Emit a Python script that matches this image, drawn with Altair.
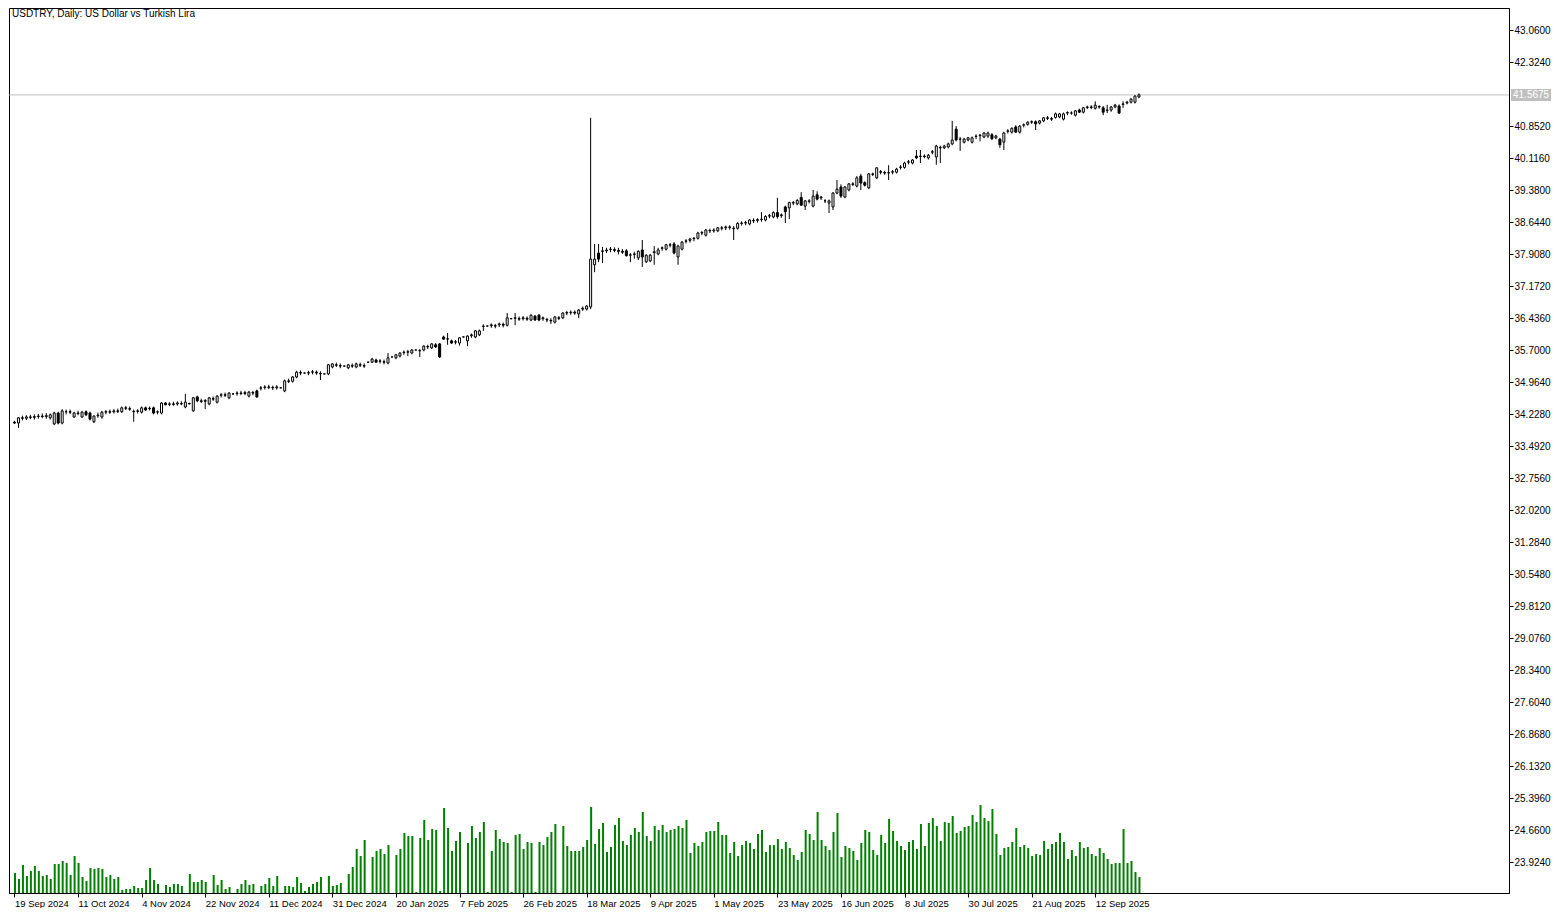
import json
import altair as alt
import pandas as pd

title_text = "USDTRY, Daily:  US Dollar vs Turkish Lira"
date_labels = ["19 Sep 2024", "11 Oct 2024", "4 Nov 2024", "22 Nov 2024", "11 Dec 2024",
               "31 Dec 2024", "20 Jan 2025", "7 Feb 2025", "26 Feb 2025", "18 Mar 2025",
               "9 Apr 2025", "1 May 2025", "23 May 2025", "16 Jun 2025", "8 Jul 2025",
               "30 Jul 2025", "21 Aug 2025", "12 Sep 2025"]
price_ticks = [23.924, 24.66, 25.396, 26.132, 26.868, 27.604, 28.34, 29.076, 29.812,
               30.548, 31.284, 32.02, 32.756, 33.492, 34.228, 34.964, 35.7, 36.436,
               37.172, 37.908, 38.644, 39.38, 40.116, 40.852, 42.324, 43.06]
last_price = 41.5675

opens = [
 34.04,34.02,34.14,34.13,34.16,34.15,34.17,34.18,34.17,34.14,34.00,34.25,34.02,34.28,34.28,34.16,34.25,34.16,34.28,34.25,
 34.05,34.19,34.16,34.27,34.28,34.28,34.30,34.28,34.37,34.35,34.29,34.29,34.27,34.37,34.35,34.37,34.27,34.25,34.48,34.45,
 34.46,34.46,34.47,34.39,34.47,34.30,34.62,34.53,34.52,34.46,34.58,34.50,34.66,34.67,34.60,34.69,34.70,34.71,34.70,34.64,
 34.72,34.76,34.82,34.84,34.85,34.84,34.83,34.83,34.76,34.99,34.98,35.08,35.18,35.17,35.17,35.19,35.19,35.16,35.15,35.15,
 35.31,35.36,35.34,35.33,35.29,35.34,35.31,35.36,35.34,35.42,35.42,35.47,35.44,35.43,35.40,35.54,35.52,35.56,35.64,35.65,
 35.63,35.70,35.68,35.70,35.77,35.75,35.82,35.84,36.00,35.95,35.91,35.88,35.86,36.00,35.91,36.03,36.00,36.05,36.24,36.25,
 36.26,36.26,36.28,36.29,36.27,36.42,36.43,36.42,36.42,36.43,36.39,36.48,36.50,36.42,36.40,36.38,36.34,36.44,36.44,36.55,
 36.56,36.57,36.53,36.64,36.64,36.69,37.66,37.93,37.98,37.98,38.01,38.01,37.99,37.97,37.98,37.88,37.90,37.82,38.00,37.73,
 37.75,37.94,37.91,38.04,38.02,38.11,38.14,37.84,38.02,38.20,38.22,38.26,38.27,38.39,38.34,38.45,38.44,38.44,38.50,38.51,
 38.53,38.50,38.50,38.61,38.62,38.60,38.68,38.68,38.70,38.69,38.78,38.76,38.86,38.79,38.99,38.97,39.08,39.06,39.21,39.01,
 39.12,39.01,39.27,39.20,39.13,39.08,38.99,39.31,39.45,39.22,39.38,39.52,39.47,39.70,39.55,39.43,39.74,39.66,39.80,39.78,
 39.77,39.79,39.79,39.90,39.90,40.02,40.00,40.16,40.15,40.15,40.12,40.25,40.14,40.36,40.35,40.37,40.44,40.78,40.55,40.48,
 40.53,40.48,40.61,40.63,40.60,40.62,40.65,40.58,40.55,40.48,40.73,40.71,40.83,40.71,40.87,40.89,40.94,40.95,40.92,40.97,
 41.04,41.02,41.05,41.06,41.01,41.15,41.15,41.10,41.22,41.17,41.28,41.29,41.26,41.30,41.27,41.21,41.22,41.29,41.31,41.35,
 41.38,41.40,41.40,41.52]
highs = [
 34.07,34.16,34.19,34.20,34.21,34.22,34.23,34.24,34.25,34.24,34.28,34.28,34.34,34.33,34.33,34.28,34.30,34.30,34.31,34.28,
 34.20,34.26,34.30,34.32,34.33,34.34,34.35,34.40,34.41,34.40,34.33,34.34,34.40,34.40,34.40,34.40,34.31,34.50,34.50,34.50,
 34.51,34.52,34.52,34.69,34.49,34.62,34.65,34.58,34.57,34.62,34.63,34.66,34.71,34.72,34.73,34.70,34.75,34.76,34.76,34.76,
 34.76,34.79,34.87,34.89,34.90,34.88,34.89,34.84,35.02,35.04,35.10,35.22,35.23,35.18,35.22,35.24,35.23,35.21,35.16,35.38,
 35.40,35.41,35.39,35.34,35.38,35.39,35.41,35.41,35.39,35.43,35.52,35.50,35.49,35.48,35.63,35.55,35.61,35.65,35.69,35.70,
 35.72,35.71,35.72,35.81,35.82,35.86,35.86,35.86,36.03,36.09,35.94,35.93,35.99,36.01,36.04,36.08,36.16,36.17,36.29,36.26,
 36.31,36.30,36.33,36.33,36.55,36.43,36.55,36.47,36.48,36.47,36.52,36.50,36.53,36.47,36.44,36.43,36.48,36.48,36.57,36.60,
 36.61,36.61,36.64,36.70,36.73,41.04,38.14,38.14,38.07,38.05,38.07,38.06,38.05,38.02,38.02,37.93,37.96,37.99,38.23,37.90,
 37.91,38.09,38.05,38.08,38.14,38.16,38.18,38.12,38.21,38.25,38.28,38.30,38.42,38.44,38.48,38.49,38.50,38.53,38.55,38.56,
 38.57,38.55,38.64,38.66,38.67,38.71,38.73,38.73,38.87,38.80,38.83,38.89,39.20,38.84,39.02,39.11,39.13,39.17,39.33,39.15,
 39.17,39.38,39.35,39.24,39.17,39.16,39.33,39.61,39.51,39.47,39.54,39.56,39.70,39.75,39.58,39.77,39.78,39.90,39.84,39.82,
 39.95,39.84,39.89,39.95,40.03,40.07,40.09,40.30,40.30,40.20,40.21,40.30,40.42,40.40,40.42,40.47,40.97,40.85,40.60,40.58,
 40.60,40.61,40.66,40.67,40.71,40.72,40.69,40.65,40.58,40.72,40.78,40.82,40.87,40.87,40.91,40.96,40.98,40.98,40.99,41.06,
 41.08,41.06,41.16,41.15,41.16,41.19,41.19,41.22,41.25,41.29,41.32,41.33,41.42,41.33,41.31,41.34,41.31,41.36,41.35,41.42,
 41.43,41.49,41.56,41.60]
lows = [
 34.00,33.91,34.08,34.09,34.11,34.10,34.12,34.13,34.12,34.10,33.97,33.99,33.99,34.22,34.23,34.14,34.20,34.14,34.18,34.08,
 34.02,34.14,34.12,34.22,34.23,34.24,34.25,34.25,34.32,34.30,34.05,34.24,34.24,34.30,34.31,34.22,34.22,34.22,34.43,34.41,
 34.42,34.42,34.43,34.36,34.45,34.28,34.50,34.48,34.34,34.43,34.53,34.47,34.61,34.62,34.57,34.68,34.65,34.66,34.66,34.61,
 34.66,34.60,34.77,34.79,34.80,34.78,34.79,34.82,34.73,34.94,34.95,35.05,35.12,35.16,35.12,35.14,35.13,35.01,35.14,35.12,
 35.28,35.31,35.28,35.32,35.26,35.29,35.28,35.31,35.29,35.41,35.40,35.41,35.39,35.37,35.37,35.53,35.49,35.53,35.59,35.56,
 35.60,35.69,35.54,35.67,35.72,35.72,35.75,35.52,35.94,35.82,35.84,35.83,35.80,35.99,35.79,35.98,35.97,36.02,36.14,36.24,
 36.21,36.20,36.23,36.22,36.24,36.41,36.27,36.37,36.38,36.37,36.36,36.37,36.36,36.37,36.34,36.30,36.31,36.39,36.41,36.50,
 36.51,36.51,36.43,36.60,36.61,36.64,37.49,37.72,37.70,37.93,37.95,37.95,37.90,37.91,37.85,37.72,37.80,37.77,37.61,37.70,
 37.72,37.66,37.88,37.98,37.99,38.06,37.90,37.66,37.99,38.15,38.17,38.20,38.24,38.34,38.31,38.39,38.40,38.41,38.45,38.46,
 38.47,38.23,38.47,38.56,38.57,38.57,38.62,38.63,38.65,38.66,38.73,38.73,38.72,38.74,38.62,38.71,39.03,39.03,39.02,38.92,
 39.07,38.98,39.14,39.15,39.08,38.85,38.92,39.28,39.20,39.19,39.35,39.47,39.44,39.38,39.46,39.40,39.70,39.63,39.74,39.73,
 39.61,39.74,39.76,39.85,39.87,39.97,39.97,40.09,40.00,40.11,40.08,40.20,39.96,40.00,40.32,40.34,40.41,40.50,40.28,40.45,
 40.50,40.45,40.55,40.50,40.57,40.58,40.53,40.55,40.35,40.30,40.68,40.68,40.70,40.68,40.82,40.86,40.90,40.76,40.89,40.94,
 40.99,40.97,41.02,41.03,40.98,41.10,41.11,41.07,41.15,41.14,41.24,41.24,41.23,41.25,41.10,41.15,41.18,41.26,41.13,41.27,
 41.35,41.37,41.37,41.49]
closes = [
 34.02,34.14,34.13,34.16,34.15,34.17,34.18,34.17,34.19,34.21,34.25,34.02,34.30,34.28,34.27,34.25,34.24,34.27,34.21,34.11,
 34.18,34.20,34.27,34.28,34.27,34.30,34.29,34.37,34.36,34.34,34.28,34.30,34.37,34.32,34.36,34.25,34.28,34.48,34.44,34.46,
 34.45,34.48,34.46,34.50,34.46,34.60,34.53,34.52,34.54,34.60,34.57,34.64,34.67,34.66,34.71,34.69,34.71,34.70,34.72,34.73,
 34.71,34.62,34.83,34.85,34.84,34.83,34.85,34.83,34.99,34.98,35.08,35.19,35.17,35.17,35.18,35.20,35.17,35.15,35.15,35.36,
 35.38,35.35,35.33,35.33,35.36,35.33,35.38,35.35,35.33,35.42,35.49,35.42,35.45,35.42,35.52,35.54,35.59,35.63,35.65,35.66,
 35.70,35.70,35.69,35.79,35.78,35.84,35.77,35.54,35.95,35.96,35.86,35.89,35.98,36.00,36.02,36.05,36.14,36.14,36.25,36.25,
 36.28,36.25,36.30,36.27,36.44,36.42,36.44,36.41,36.44,36.41,36.50,36.39,36.39,36.44,36.39,36.37,36.46,36.43,36.55,36.56,
 36.57,36.55,36.62,36.66,36.71,37.79,37.79,37.79,37.97,38.00,38.02,37.99,37.97,37.95,37.87,37.89,37.91,37.97,37.84,37.88,
 37.88,37.96,38.00,38.05,38.12,38.12,37.93,38.09,38.18,38.21,38.25,38.27,38.39,38.40,38.46,38.44,38.46,38.51,38.51,38.53,
 38.52,38.49,38.61,38.62,38.63,38.69,38.67,38.70,38.71,38.77,38.79,38.86,38.77,38.81,38.88,39.09,39.09,39.14,39.03,39.13,
 39.13,39.24,39.17,39.22,39.13,39.13,39.31,39.40,39.24,39.45,39.52,39.51,39.66,39.54,39.49,39.75,39.75,39.89,39.79,39.77,
 39.78,39.80,39.86,39.91,40.00,40.03,40.07,40.12,40.16,40.16,40.18,40.26,40.39,40.35,40.39,40.44,40.53,40.53,40.55,40.55,
 40.58,40.58,40.62,40.64,40.69,40.69,40.56,40.62,40.42,40.69,40.74,40.80,40.71,40.85,40.88,40.94,40.95,40.90,40.97,41.04,
 41.03,41.01,41.13,41.13,41.13,41.16,41.15,41.20,41.17,41.27,41.29,41.28,41.33,41.29,41.17,41.22,41.29,41.33,41.15,41.36,
 41.40,41.47,41.54,41.5675]
volumes = [
 20,14,28,17,22,27,22,17,18,14,29,29,32,30,18,37,30,16,12,25,
 24,25,24,16,18,14,16,3,4,4,7,5,5,13,25,13,9,0,8,6,
 9,9,7,0,19,11,11,13,11,0,18,8,13,4,6,0,4,9,13,8,
 9,0,7,9,15,7,17,0,7,7,6,16,10,2,6,9,11,16,0,17,
 7,8,10,0,19,26,44,37,53,0,36,42,44,39,48,0,38,44,60,57,
 57,1,55,73,53,64,63,2,85,65,42,52,61,0,50,67,55,61,71,1,
 42,63,54,51,50,1,58,59,44,51,50,1,51,48,56,61,69,0,67,47,
 42,42,42,46,53,86,49,64,70,41,46,68,75,52,48,58,65,61,81,57,
 52,67,63,68,61,63,64,67,65,73,40,50,47,51,61,62,62,71,58,58,
 40,51,37,48,52,50,44,59,63,41,48,48,54,44,51,45,38,33,41,63,
 59,53,81,53,47,43,61,80,36,47,45,42,33,50,63,61,43,38,58,50,
 74,62,52,47,43,51,53,44,69,47,70,75,67,52,71,70,77,60,62,66,
 67,78,71,88,75,72,84,59,38,45,46,51,65,46,48,45,37,39,38,52,
 44,49,51,60,51,34,43,37,51,45,46,39,37,45,40,34,29,30,30,64,
 30,32,21,16]

n = len(closes)
assert all(len(a) == n for a in (opens, highs, lows, volumes)), [len(a) for a in (opens, highs, lows, closes, volumes)]

df = pd.DataFrame({"i": list(range(n)), "open": opens, "high": highs, "low": lows,
                   "close": closes, "vol": volumes})
last_df = pd.DataFrame({"p": [last_price], "t": [f"{last_price:.4f}"]})
title_df = pd.DataFrame({"t": [title_text]})

FONT = "Liberation Sans"
label_expr = json.dumps(date_labels) + "[round(datum.value / 16)]"
x_ticks = [16 * k for k in range(len(date_labels))]

x_enc = alt.X("i:Q",
              scale=alt.Scale(domain=[-0.125, 374.875], nice=False, zero=False),
              axis=alt.Axis(values=x_ticks, labelExpr=label_expr, title=None,
                            labelAlign="left", labelBaseline="top", labelPadding=1,
                            labelFontSize=9.5,
                            labelOverlap=False, labelFlush=False, labelBound=False,
                            tickSize=4))
price_scale = alt.Scale(domain=[23.211, 43.566], nice=False, zero=False)
price_axis = alt.Axis(orient="right", values=price_ticks, format=".4f", title=None,
                      labelPadding=1, tickSize=4, labelOverlap=False, labelFlush=False)

def py(field):
    return alt.Y(field, type="quantitative", scale=price_scale, axis=price_axis)

volume_layer = alt.Chart(df).mark_bar(width=2, color="#008000", xOffset=0.5).encode(
    x=x_enc,
    y=alt.Y("vol:Q", scale=alt.Scale(domain=[0, 885], nice=False, zero=True), axis=None),
)

price_line = alt.Chart(last_df).mark_rule(color="#c0c0c0", strokeWidth=1).encode(y=py("p"))

wicks = alt.Chart(df).mark_rule(color="black", strokeWidth=1).encode(
    x=x_enc, y=py("low"), y2="high")

bodies = alt.Chart(df).mark_bar(width=2, stroke="black", strokeWidth=1).encode(
    x=x_enc, y=py("open"), y2="close",
    fill=alt.condition("datum.close >= datum.open", alt.value("white"), alt.value("black")),
)

price_box = alt.Chart(last_df).mark_rect(color="#c0c0c0", yOffset=-6, y2Offset=6).encode(
    x=alt.value(1502), x2=alt.value(1542), y=py("p"), y2="p")

price_text = alt.Chart(last_df).mark_text(align="left", baseline="middle", color="white",
                                           font=FONT, fontSize=10).encode(
    x=alt.value(1504), y=py("p"), text="t:N")

title_layer = alt.Chart(title_df).mark_text(align="left", baseline="middle", color="black",
                                            font=FONT, fontSize=10).encode(
    x=alt.value(3), y=alt.value(6), text="t:N")

price_group = alt.layer(price_line, wicks, bodies, price_box, price_text, title_layer)

chart = alt.layer(volume_layer, price_group).resolve_scale(y="independent").properties(
    width=1500, height=885,
    padding={"left": 0, "top": 0, "right": 0, "bottom": 0},
    background="white",
).configure_view(stroke="black", strokeWidth=1).configure_axis(
    domainColor="black", tickColor="black", labelColor="black", labelFont=FONT,
    labelFontSize=10, grid=False, domainWidth=1, tickWidth=1,
)

chart.save("out.html", embed_options={"renderer": "svg", "actions": False})
